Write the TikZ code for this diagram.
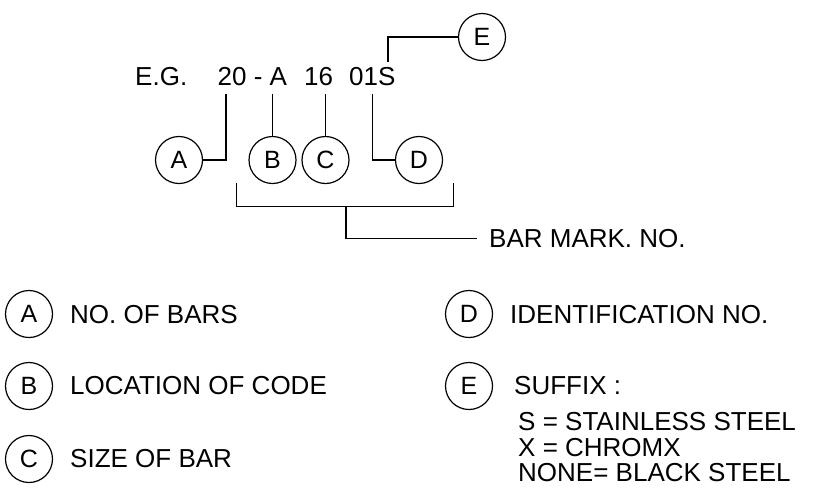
\documentclass[tikz,border=0pt]{standalone}
\usepackage{fontspec}
\setmainfont{Liberation Sans}
\begin{document}
\begin{tikzpicture}[x=1pt,y=-1pt,
  lbl/.style={circle,draw,line width=1.2pt,minimum size=47pt,inner sep=0pt,font=\fontsize{25}{28}\selectfont},
  txt/.style={anchor=base west,inner sep=0pt,font=\fontsize{26}{28}\selectfont},
  conn/.style={line width=1.3pt}]
\useasboundingbox (0,0) rectangle (834,499);
% top example code
\node[txt] (eg) at (135,85) {E.G.};
\node[txt] (t20) at (217.5,85) {20 - A};
\node[txt] (t16) at (304,85) {16};
\node[txt] (t01) at (349,85) {01S};
\node[lbl] (cA) at (179,160) {A};
\node[lbl] (cB) at (272.5,160) {B};
\node[lbl] (cC) at (325.5,160) {C};
\node[lbl] (cD) at (419,160) {D};
\node[lbl] (cE) at (482,37) {E};
\coordinate (pA) at (226,94);
\coordinate (pB) at (272.5,94);
\coordinate (pC) at (325.5,94);
\coordinate (pD) at (372.7,94);
\coordinate (pE) at (388,62);
\draw[conn] (pA) |- (cA.east);
\draw[conn] (pB) -- (cB.north);
\draw[conn] (pC) -- (cC.north);
\draw[conn] (pD) |- (cD.west);
\draw[conn] (pE) |- (cE.west);
% bracket
\coordinate (bl) at (236.7,182.7);
\coordinate (br) at (453.3,182.7);
\coordinate (bs) at (346,206.7);
\draw[conn] (bl) |- (bs) -| (br);
\node[anchor=west,inner sep=0pt,inner xsep=12pt,font=\fontsize{26}{28}\selectfont] (bar) at (477,238.3) {BAR MARK. NO.};
\draw[conn] (bs) |- (bar.west);
% legend
\node[lbl] (lA) at (29,314) {A};
\node[lbl] (lB) at (29,386) {B};
\node[lbl] (lC) at (29,459) {C};
\node[lbl] (lD) at (469,314) {D};
\node[lbl] (lE) at (469,386) {E};
\node[txt] (nA) at (70,323) {NO. OF BARS};
\node[txt] (nB) at (70,394) {LOCATION OF CODE};
\node[txt] (nC) at (70,467) {SIZE OF BAR};
\node[txt] (nD) at (510,323) {IDENTIFICATION NO.};
\node[txt] (nE) at (514,394) {SUFFIX :};
\node[txt] (s1) at (518,430) {S = STAINLESS STEEL};
\node[txt] (s2) at (518,456) {X = CHROMX};
\node[txt] (s3) at (518,481.7) {NONE= BLACK STEEL};
\end{tikzpicture}
\end{document}
